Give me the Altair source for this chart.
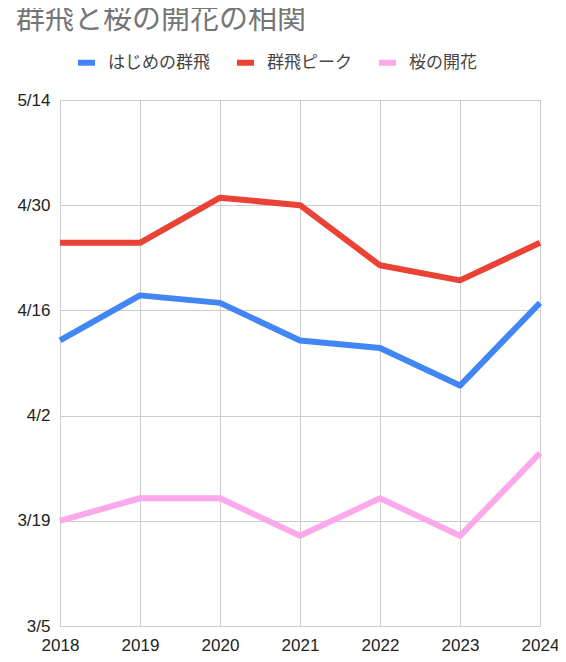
import altair as alt
import pandas as pd

years = [2018, 2019, 2020, 2021, 2022, 2023, 2024]
first_swarm = ["4/12", "4/18", "4/17", "4/12", "4/11", "4/6", "4/17"]
peak_swarm = ["4/25", "4/25", "5/1", "4/30", "4/22", "4/20", "4/25"]
sakura_bloom = ["3/19", "3/22", "3/22", "3/17", "3/22", "3/17", "3/28"]

series_names = ["はじめの群飛", "群飛ピーク", "桜の開花"]
series_colors = ["#4285F4", "#EA4335", "#FBA9EA"]
y_ticks = ["3/5", "3/19", "4/2", "4/16", "4/30", "5/14"]
title_text = "群飛と桜の開花の相関"


def to_iso(md):
    m, d = md.split("/")
    return f"2001-{int(m):02d}-{int(d):02d}"


def to_dt(md):
    m, d = md.split("/")
    return alt.DateTime(year=2001, month=int(m), date=int(d), utc=True)


rows = []
for name, vals in zip(series_names, [first_swarm, peak_swarm, sakura_bloom]):
    for y, v in zip(years, vals):
        rows.append({"year": y, "date": to_iso(v), "series": name})
df = pd.DataFrame(rows)

font = "Liberation Sans"
cjk = "Noto Sans CJK JP"

chart = (
    alt.Chart(df)
    .mark_line(strokeWidth=6, strokeJoin="round")
    .encode(
        x=alt.X(
            "year:Q",
            scale=alt.Scale(domain=[years[0], years[-1]], nice=False, zero=False),
            axis=alt.Axis(values=years, format="d", title=None, labelPadding=11,
                          labelFlush=False),
        ),
        y=alt.Y(
            "date:T",
            scale=alt.Scale(type="utc", domain=[to_dt(y_ticks[0]), to_dt(y_ticks[-1])], nice=False),
            axis=alt.Axis(
                values=[to_dt(t) for t in y_ticks],
                labelExpr="(utcmonth(datum.value) + 1) + '/' + utcdate(datum.value)",
                title=None, labelPadding=10, labelFlush=False,
            ),
        ),
        order=alt.Order("year:Q"),
        color=alt.Color(
            "series:N",
            scale=alt.Scale(domain=series_names, range=series_colors),
            sort=series_names,
            legend=alt.Legend(
                title=None, orient="none", direction="horizontal",
                legendX=15, legendY=-49, symbolType="stroke", symbolSize=289,
                symbolStrokeWidth=6, labelFont=cjk, labelFontSize=17,
                labelColor="#444444", labelOffset=10, columnPadding=15, padding=0,
            ),
        ),
    )
    .properties(
        width=480,
        height=526,
        padding={"left": 52, "top": 92, "right": 18, "bottom": 28},
        autosize=alt.AutoSizeParams(type="none"),
        title=alt.TitleParams(
            title_text, anchor="start", fontSize=29, font=cjk, fontWeight="normal",
            color="#757575", dx=-44, dy=-12, frame="group",
        ),
    )
    .configure_axis(
        labelFont=font, labelFontSize=17, labelColor="#222222",
        gridColor="#cccccc", domainColor="#cccccc", ticks=False,
    )
    .configure_view(stroke="#cccccc")
)

chart.save("out.html", embed_options={"renderer": "svg", "actions": False})
